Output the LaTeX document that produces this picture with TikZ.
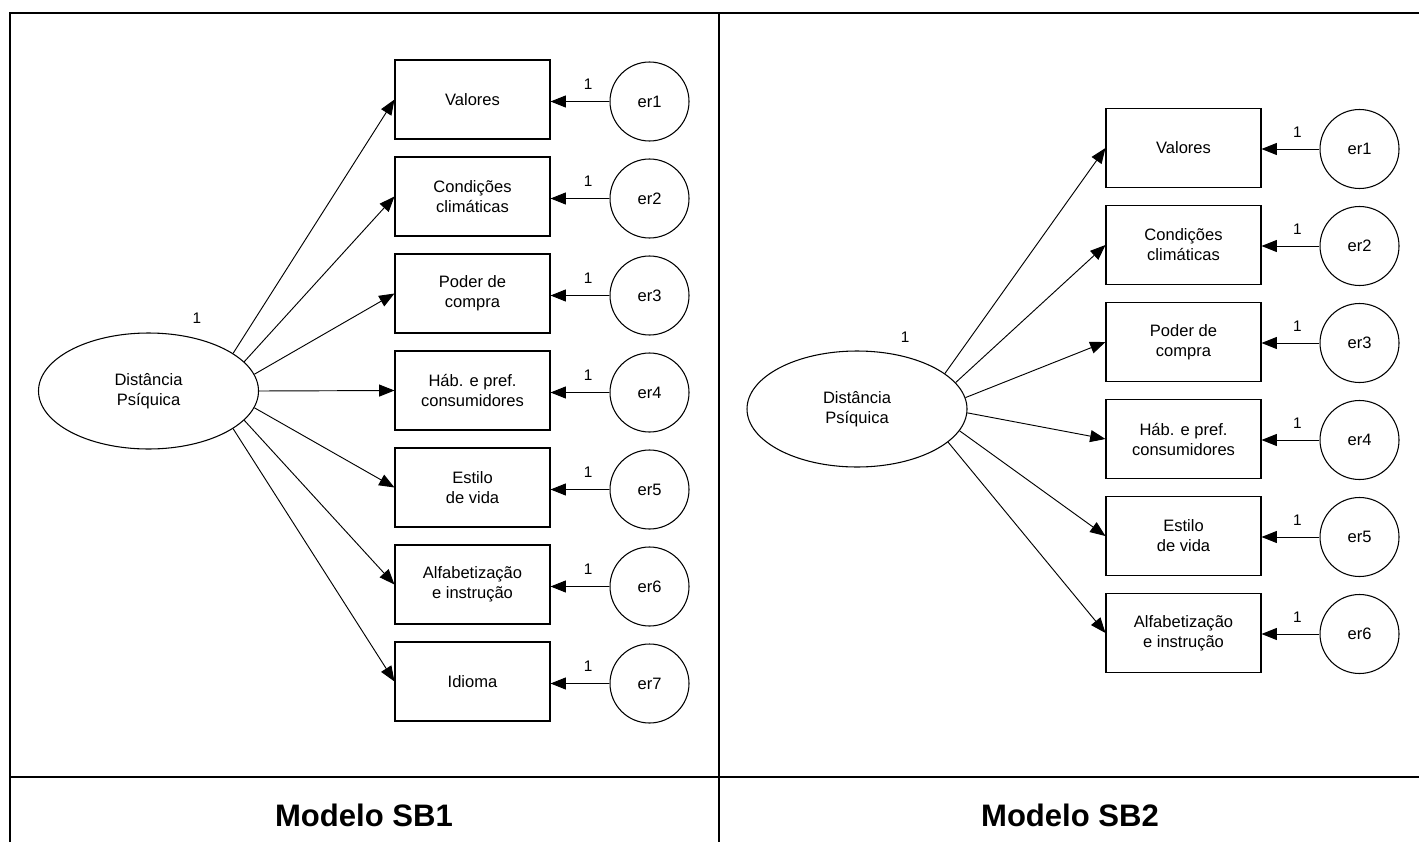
\documentclass[tikz,border=0pt]{standalone}
\usepackage{fontspec}
\setmainfont{Liberation Sans}
\usetikzlibrary{shapes.geometric,arrows.meta,calc}

\tikzset{
  obsbox/.style={draw, line width=0.8pt, rectangle, minimum width=116.25pt,
    minimum height=59.25pt, inner sep=0pt, align=center,
    font=\fontsize{12.4}{15}\selectfont},
  errcirc/.style={draw, line width=0.8pt, circle, minimum size=59.25pt,
    inner sep=0pt, font=\fontsize{12.4}{15}\selectfont},
  latent/.style={draw, line width=0.8pt, ellipse, minimum width=165pt,
    minimum height=87pt, inner sep=0pt, align=center,
    font=\fontsize{12.4}{15}\selectfont},
  path arrow/.style={line width=0.7pt, -{Triangle[length=11.5pt,width=9pt]}},
  weight/.style={font=\fontsize{11.5}{13}\selectfont, inner sep=0pt},
  frame/.style={line width=1.9pt},
  title/.style={font=\fontsize{23.3}{28}\selectfont\bfseries, anchor=base}
}

\begin{document}
\begin{tikzpicture}[x=0.75pt, y=-0.75pt]
\useasboundingbox (0,0) rectangle (1419,842);

% outer frame and panel dividers
\coordinate (tl) at (10,13);
\coordinate (tr) at (1419,13);
\coordinate (bl) at (10,842);
\coordinate (mt) at (719,13);
\coordinate (mb) at (719,842);
\coordinate (dl) at (10,777);
\coordinate (dr) at (1419,777);
\draw[frame] (bl) -- (tl) -- (tr);
\draw[frame] (mt) -- (mb);
\draw[frame] (dl) -- (dr);

% ---------------- Modelo SB1 ----------------
\node[latent] (dpL) at (148.5,391) {Distância\\Psíquica};
\node[weight] (oneL) at ($(dpL)+(48.5,-73)$) {1};

% index / row centre / start angle on the ellipse / label
\foreach \i/\y/\a/\txt in {1/99.5/24.5/Valores,
                        2/196.5/17.2/{Condições\\climáticas},
                        3/293.5/9.8/{Poder de\\compra},
                        4/390.5/0/{Háb. e pref.\\consumidores},
                        5/487.5/-9.8/{Estilo\\de vida},
                        6/584.5/-17.2/{Alfabetização\\e instrução},
                        7/681.5/-24.5/Idioma}{
  \node[obsbox] (bL\i) at (472.5,\y) {\txt};
  \node[errcirc] (eL\i) at (649.5,\y+2) {er\i};
  \draw[path arrow] (dpL.\a) -- (bL\i.west);
  \draw[path arrow] (eL\i.west) -- node[weight, pos=0.36, above=9pt] {1} (eL\i.west -| bL\i.east);
}

\node[title] (tL) at (364,826) {Modelo SB1};

% ---------------- Modelo SB2 ----------------
\node[latent] (dpR) at (857,409) {Distância\\Psíquica};
\node[weight] (oneR) at ($(dpR)+(48,-72)$) {1};

\foreach \i/\y/\a/\txt in {1/148/22.8/Valores,
                        2/245/15.5/{Condições\\climáticas},
                        3/342/6.2/{Poder de\\compra},
                        4/439/-2.8/{Háb. e pref.\\consumidores},
                        5/536/-12.5/{Estilo\\de vida},
                        6/633/-20.5/{Alfabetização\\e instrução}}{
  \node[obsbox] (bR\i) at (1183.5,\y) {\txt};
  \node[errcirc] (eR\i) at (1359.5,\y+1) {er\i};
  \draw[path arrow] (dpR.\a) -- (bR\i.west);
  \draw[path arrow] (eR\i.west) -- node[weight, pos=0.38, above=8pt] {1} (eR\i.west -| bR\i.east);
}

\node[title] (tR) at (1070,826) {Modelo SB2};
\end{tikzpicture}
\end{document}
